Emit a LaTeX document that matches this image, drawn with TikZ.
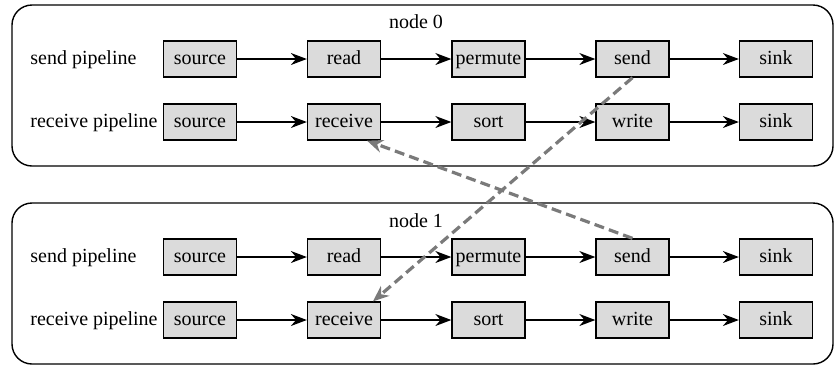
\documentclass[tikz,border=0pt]{standalone}
\usepackage{fontspec}
\setmainfont{Liberation Serif}
\usetikzlibrary{arrows.meta,calc}
\begin{document}
\begin{tikzpicture}[x=0.5pt,y=-0.5pt,
  stage/.style={draw=black,line width=0.65pt,fill=black!14,minimum width=36.5pt,minimum height=18pt,inner sep=1pt,text height=1.55ex,text depth=0.3ex,font=\fontsize{10}{12}\selectfont},
  lbl/.style={anchor=west,inner sep=0pt,text height=1.55ex,text depth=0.3ex,font=\fontsize{10}{12}\selectfont},
  ttl/.style={inner sep=0pt,font=\fontsize{10}{12}\selectfont},
  flow/.style={draw=black,line width=0.65pt,-{Stealth[length=8pt,width=6pt,inset=2.6pt]}},
  xfer/.style={draw=black!52,line width=1.6pt,dash pattern=on 5pt off 2.6pt,-{Stealth[length=8pt,width=6.5pt,inset=2.6pt]}},
  container/.style={draw=black,line width=0.7pt,rounded corners=10pt}]
\useasboundingbox (0,0) rectangle (835,366);
\draw[container] (12,5) rectangle (833,166);
\draw[container] (12,203) rectangle (833,364);
\node[ttl] (t0) at (416,22) {node 0};
\node[ttl] (t1) at (416,221) {node 1};
\foreach \n/\ys/\yr in {0/59/122,1/257/320}{
  \node[lbl] (sp\n) at (30,\ys) {send pipeline};
  \node[lbl] (rp\n) at (30,\yr) {receive pipeline};
  \node[stage] (ssource\n) at (200,\ys) {source};
  \node[stage] (sread\n) at (344,\ys) {read};
  \node[stage] (spermute\n) at (488.5,\ys) {permute};
  \node[stage] (ssend\n) at (632.5,\ys) {send};
  \node[stage] (ssink\n) at (776,\ys) {sink};
  \node[stage] (rsource\n) at (200,\yr) {source};
  \node[stage] (rreceive\n) at (344,\yr) {receive};
  \node[stage] (rsort\n) at (488.5,\yr) {sort};
  \node[stage] (rwrite\n) at (632.5,\yr) {write};
  \node[stage] (rsink\n) at (776,\yr) {sink};
  \draw[flow] (ssource\n) -- (sread\n);
  \draw[flow] (sread\n) -- (spermute\n);
  \draw[flow] (spermute\n) -- (ssend\n);
  \draw[flow] (ssend\n) -- (ssink\n);
  \draw[flow] (rsource\n) -- (rreceive\n);
  \draw[flow] (rreceive\n) -- (rsort\n);
  \draw[flow] (rsort\n) -- (rwrite\n);
  \draw[flow] (rwrite\n) -- (rsink\n);
}
\coordinate (e1) at ($(rreceive1.north)+(29,0)$);
\coordinate (e0) at ($(rreceive0.south)+(23,0)$);
\draw[xfer] (ssend0.south) -- (e1);
\draw[xfer] (ssend1.north) -- (e0);
\end{tikzpicture}
\end{document}
